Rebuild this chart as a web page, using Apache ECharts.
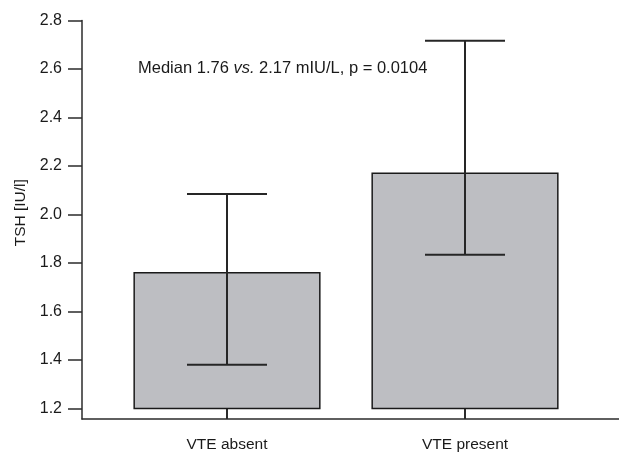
<!DOCTYPE html>
<html>
<head>
<meta charset="utf-8">
<script src="https://cdn.jsdelivr.net/npm/echarts@6/dist/echarts.min.js"></script>
<style>
  html, body { margin: 0; padding: 0; background: #fff; }
  #chart { width: 619px; height: 455px; }
</style>
</head>
<body>
<div id="chart"></div>
<script>
// data
var categories = ['VTE absent', 'VTE present'];
var catPos = [1, 2];
var medians = [1.76, 2.17];
var lows = [1.38, 1.834];
var highs = [2.085, 2.717];
var yTicks = [1.2, 1.4, 1.6, 1.8, 2.0, 2.2, 2.4, 2.6, 2.8];
var barBase = 1.2;

var font = '"Liberation Sans Narrow", "Liberation Sans", Arial, sans-serif';
var ink = '#2b2b2b';

var chart = echarts.init(document.getElementById('chart'));

var barData = catPos.map(function (x, i) { return [x, medians[i]]; });
var errData = catPos.map(function (x, i) { return [x, lows[i], highs[i]]; });

chart.setOption({
  animation: false,
  title: {
    left: 133,
    top: 55,
    text: '{a|Median 1.76 }{i|vs.}{a| 2.17 mIU/L, p = 0.0104}',
    textStyle: {
      fontWeight: 'normal',
      rich: {
        a: { fontFamily: font, fontSize: 16.5, fontWeight: 'normal', color: '#1a1a1a' },
        i: { fontFamily: font, fontSize: 16.5, fontWeight: 'normal', fontStyle: 'italic', color: '#1a1a1a' }
      }
    }
  },
  grid: { left: 82, right: 0, top: 20.5, bottom: 36, containLabel: false, outerBoundsMode: 'none' },
  xAxis: {
    type: 'value',
    min: 0.3908,
    max: 2.647,
    splitLine: { show: false },
    axisLine: { show: true, lineStyle: { color: ink, width: 1.5 } },
    axisTick: {
      show: true, inside: true, length: 11, customValues: catPos,
      lineStyle: { color: ink, width: 2 }
    },
    axisLabel: {
      customValues: catPos,
      margin: 18,
      fontFamily: font, fontSize: 15.5, color: '#1a1a1a',
      formatter: function (v) { return categories[catPos.indexOf(v)] || ''; }
    }
  },
  yAxis: {
    type: 'value',
    min: 1.1567,
    max: 2.8,
    name: 'TSH [IU/l]',
    nameLocation: 'middle',
    nameGap: 53,
    nameTextStyle: { fontFamily: font, fontSize: 15.5, color: '#1a1a1a', padding: [0, 0, 0, 14] },
    splitLine: { show: false },
    axisLine: { show: true, lineStyle: { color: ink, width: 1.5 } },
    axisTick: {
      show: true, length: 14, customValues: yTicks,
      lineStyle: { color: ink, width: 1.5 }
    },
    axisLabel: {
      customValues: yTicks,
      margin: 20,
      fontFamily: font, fontSize: 16, color: '#1a1a1a',
      formatter: function (v) { return v.toFixed(1); }
    }
  },
  series: [{
    type: 'custom',
    data: barData,
    renderItem: function (params, api) {
      var x = api.value(0);
      var top = api.coord([x, api.value(1)]);
      var base = api.coord([x, barBase]);
      var w = api.size([0.78, 0])[0];
      return {
        type: 'rect',
        shape: { x: top[0] - w / 2, y: top[1], width: w, height: base[1] - top[1] },
        style: { fill: '#bdbec2', stroke: '#1a1a1a', lineWidth: 1.5 }
      };
    }
  }, {
    type: 'custom',
    data: errData,
    renderItem: function (params, api) {
      var x = api.value(0);
      var lo = api.coord([x, api.value(1)]);
      var hi = api.coord([x, api.value(2)]);
      var half = 40;
      var st = { stroke: '#262626', lineWidth: 2 };
      return {
        type: 'group',
        children: [
          { type: 'line', shape: { x1: lo[0], y1: lo[1], x2: hi[0], y2: hi[1] }, style: st },
          { type: 'line', shape: { x1: lo[0] - half, y1: lo[1], x2: lo[0] + half, y2: lo[1] }, style: st },
          { type: 'line', shape: { x1: hi[0] - half, y1: hi[1], x2: hi[0] + half, y2: hi[1] }, style: st }
        ]
      };
    }
  }]
});
</script>
</body>
</html>
